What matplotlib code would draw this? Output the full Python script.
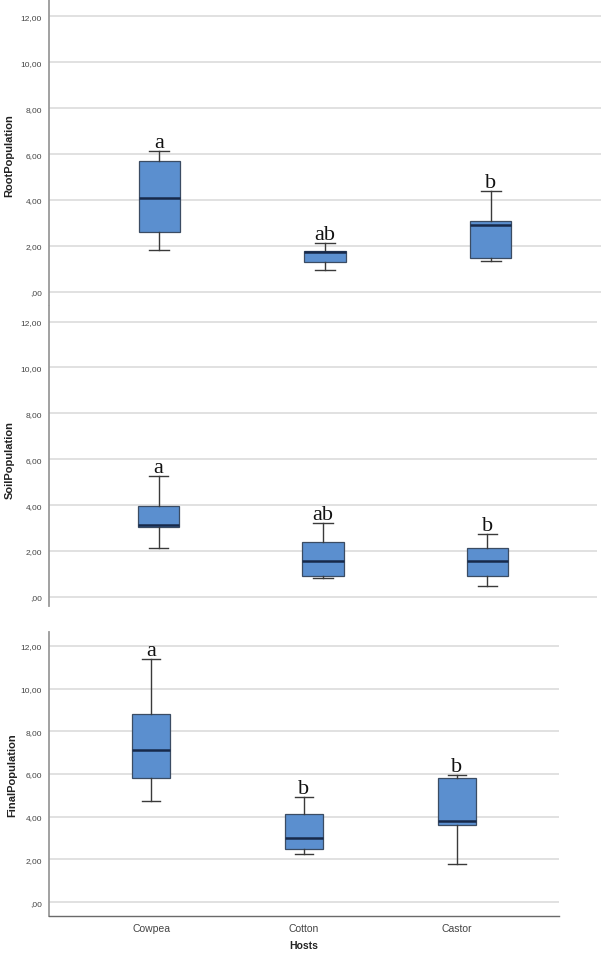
import matplotlib
matplotlib.use('Agg')
import matplotlib.pyplot as plt

hosts = ['Cowpea', 'Cotton', 'Castor']
panel_names = ['RootPopulation', 'SoilPopulation', 'FinalPopulation']

# five-number summaries: whislo, q1, med, q3, whishi
root_stats = [
    [1.83, 2.61, 4.09, 5.70, 6.13],
    [0.96, 1.30, 1.72, 1.76, 2.13],
    [1.35, 1.48, 2.91, 3.09, 4.39],
]
soil_stats = [
    [2.14, 3.06, 3.14, 3.97, 5.26],
    [0.83, 0.92, 1.57, 2.40, 3.23],
    [0.48, 0.92, 1.57, 2.14, 2.75],
]
final_stats = [
    [4.73, 5.81, 7.13, 8.81, 11.39],
    [2.25, 2.48, 3.00, 4.13, 4.92],
    [1.78, 3.61, 3.80, 5.81, 5.95],
]
root_letters = ['a', 'ab', 'b']
soil_letters = ['a', 'ab', 'b']
final_letters = ['a', 'b', 'b']

y_ticks = [0, 2, 4, 6, 8, 10, 12]
y_tick_labels = [',00', '2,00', '4,00', '6,00', '8,00', '10,00', '12,00']

W, H = 603, 954
fig = plt.figure(figsize=(W / 100, H / 100), dpi=100)


def px_axes(left, top, right, bottom):
    return fig.add_axes([left / W, 1 - bottom / H, (right - left) / W, (bottom - top) / H])


# axes placement in pixels (left, top, right, bottom), y-limits, label x in pixels
layout = [
    ((49, 0, 601, 306), (-0.57, 12.75), False, 14),
    ((49, 307, 597, 607), (-0.4, 12.68), False, 15),
    ((49, 633, 559, 917), (-0.65, 12.65), True, 17),
]
all_stats = [root_stats, soil_stats, final_stats]
all_letters = [root_letters, soil_letters, final_letters]

box_color = '#5b8fcf'
edge_color = '#3b4c63'
med_color = '#17294a'
whisk_color = '#3a3a3a'

for (rect, ylim, show_x, lab_x), name, stats, letters in zip(layout, panel_names, all_stats, all_letters):
    ax = px_axes(*rect)
    bxp_stats = []
    for label, (lo, q1, med, q3, hi) in zip(hosts, stats):
        bxp_stats.append({'label': label, 'whislo': lo, 'q1': q1, 'med': med,
                          'q3': q3, 'whishi': hi, 'fliers': []})
    ax.bxp(bxp_stats, positions=[1, 2, 3], widths=0.25, patch_artist=True,
           showfliers=False, capwidths=0.12,
           boxprops=dict(facecolor=box_color, edgecolor=edge_color, linewidth=0.9),
           medianprops=dict(color=med_color, linewidth=1.8),
           whiskerprops=dict(color=whisk_color, linewidth=1.0),
           capprops=dict(color=whisk_color, linewidth=1.0))

    for i, (letter, s) in enumerate(zip(letters, stats)):
        ax.annotate(letter, (i + 1, s[4]), xytext=(0, 3), textcoords='offset points',
                    ha='center', va='baseline', fontsize=16,
                    family='Liberation Serif', color='#111111')

    ax.set_xlim(1 / 3, 11 / 3)
    ax.set_ylim(*ylim)
    ax.set_yticks(y_ticks)
    ax.set_yticklabels(y_tick_labels, fontsize=6, color='#444444', family='Liberation Sans')
    ax.yaxis.grid(True, color='#d9d9d9', linewidth=1.1)
    ax.set_axisbelow(True)
    ax.tick_params(axis='y', length=0, pad=5)

    for side in ['top', 'right']:
        ax.spines[side].set_visible(False)
    ax.spines['left'].set_color('#9a9a9a')
    ax.spines['left'].set_linewidth(1.3)

    ax.set_ylabel(name, fontsize=8, fontweight='bold', family='Liberation Sans', color='#222222')
    ax.yaxis.set_label_coords((lab_x - rect[0]) / (rect[2] - rect[0]),
                              (6 - ylim[0]) / (ylim[1] - ylim[0]))

    if show_x:
        ax.spines['bottom'].set_color('#6a6a6a')
        ax.spines['bottom'].set_linewidth(1.0)
        ax.set_xticks([1, 2, 3])
        ax.set_xticklabels(hosts, fontsize=7.5, color='#444444', family='Liberation Sans')
        ax.tick_params(axis='x', length=0, pad=5)
        ax.set_xlabel('Hosts', fontsize=7.5, fontweight='bold', family='Liberation Sans',
                      color='#222222', labelpad=5)
    else:
        ax.spines['bottom'].set_visible(False)
        ax.set_xticks([])

fig.savefig('out.png', dpi=100)
